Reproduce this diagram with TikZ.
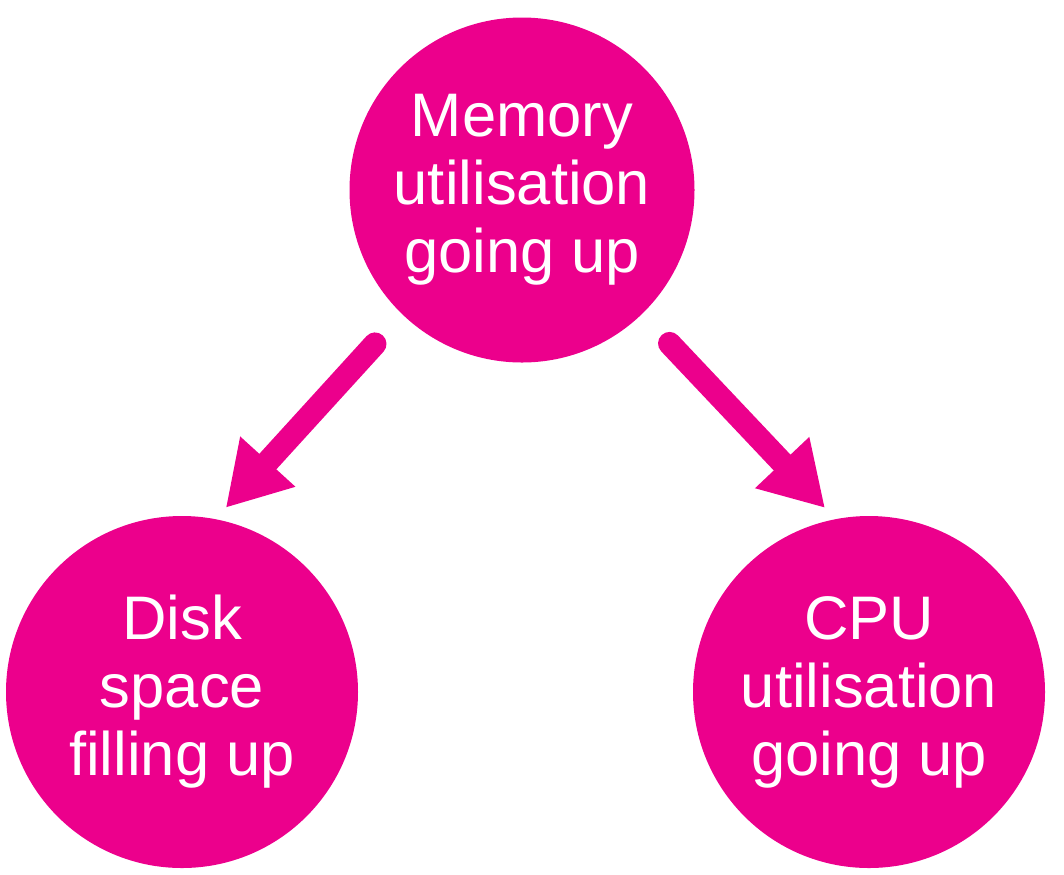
\documentclass[tikz,border=0pt]{standalone}
\usepackage{fontspec}
\setmainfont{Liberation Sans}
\usetikzlibrary{arrows.meta}
\definecolor{hotpink}{RGB}{236,0,140}
\tikzset{
  bubble/.style={circle,fill=hotpink,text=white,align=center,inner sep=0pt,
    minimum size=#1,font=\fontsize{35pt}{38.7pt}\selectfont},
  push/.style={draw=hotpink,line width=0.46cm,line cap=round,
    -{Triangle[length=1.25cm,width=1.4cm]}}
}

\begin{document}
\begin{tikzpicture}
  \useasboundingbox (0,0) rectangle (21.28,-17.48);
  \node[bubble=6.9cm] (memory) at (10.44,-3.8) {Memory\\utilisation\\going up};
  \node[bubble=7.04cm] (disk) at (3.64,-13.84) {Disk\\space\\filling up};
  \node[bubble=7.04cm] (cpu) at (17.38,-13.84) {CPU\\utilisation\\going up};
  \draw[push,shorten <=0.8cm,shorten >=0.3cm] (memory.226) -- (disk.79);
  \draw[push,shorten <=0.8cm,shorten >=0.3cm] (memory.314) -- (cpu.101);
\end{tikzpicture}
\end{document}
